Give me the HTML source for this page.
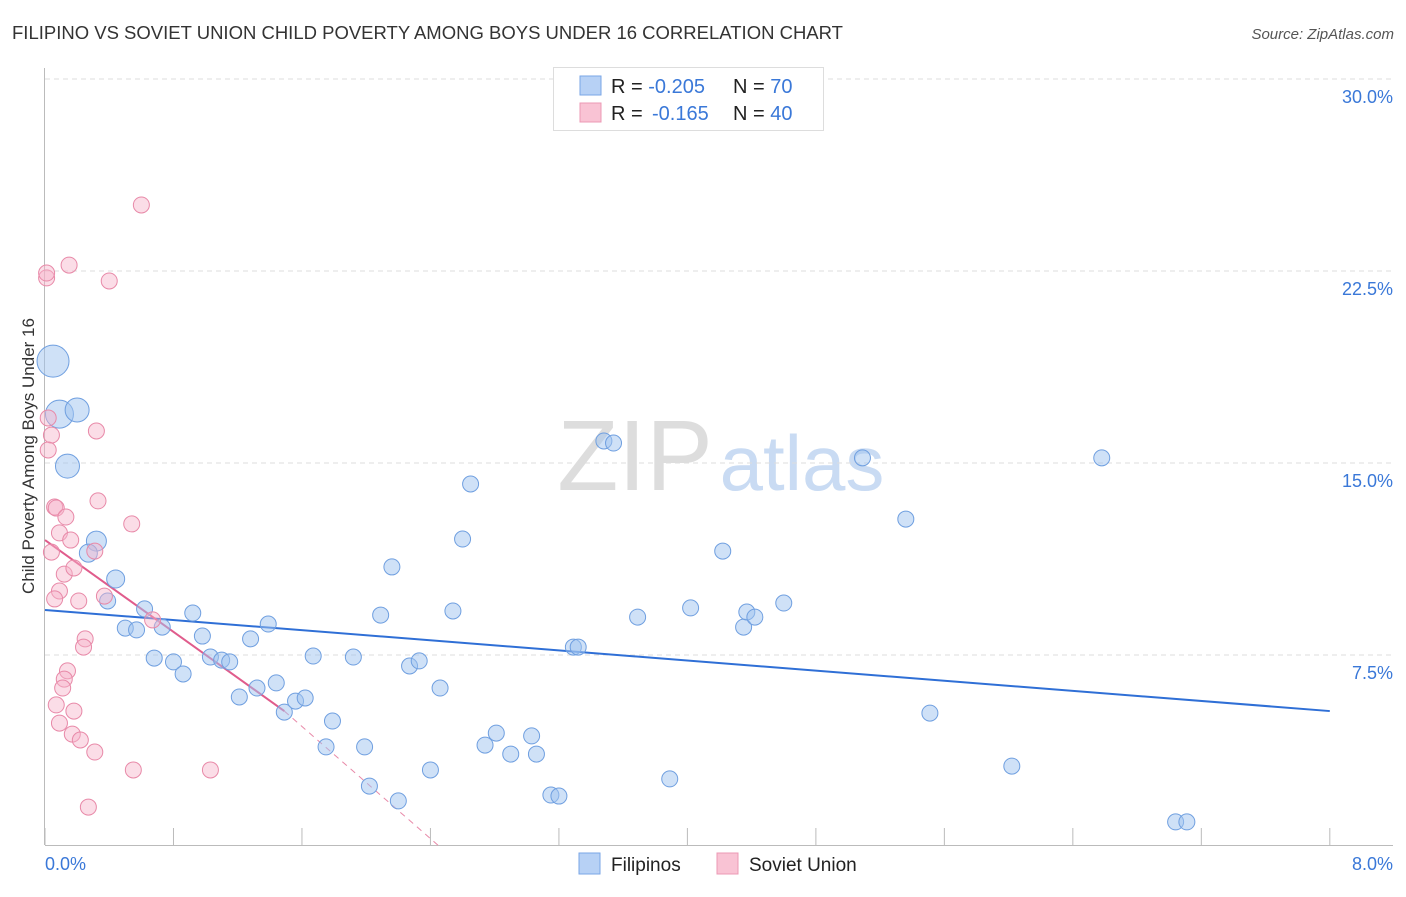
<!DOCTYPE html>
<html><head><meta charset="utf-8"><style>
body{margin:0;background:#fff;font-family:"Liberation Sans",sans-serif;}
svg text{font-family:"Liberation Sans",sans-serif;}
</style></head><body>
<svg id="chart" width="1406" height="892" xmlns="http://www.w3.org/2000/svg">
<text x="12" y="39" font-size="18.5" fill="#333">FILIPINO VS SOVIET UNION CHILD POVERTY AMONG BOYS UNDER 16 CORRELATION CHART</text>
<text x="1394" y="39" font-size="15" fill="#555" font-style="italic" text-anchor="end">Source: ZipAtlas.com</text>
<text x="34" y="456" font-size="17" fill="#333" text-anchor="middle" transform="rotate(-90 34 456)">Child Poverty Among Boys Under 16</text>
<g>
<text x="635" y="490" font-size="100" fill="#ddd" font-family="Liberation Serif" text-anchor="middle">ZIP</text>
<text x="802" y="490" font-size="78" fill="#c9dbf3" text-anchor="middle">atlas</text>
</g>
<g id="grid"></g><g id="axes"></g><g id="trends"></g><g id="pts"></g>
<g>
<rect x="553.5" y="67.5" width="270" height="63" fill="#fff" stroke="#ddd"/>
<rect x="580" y="76" width="21" height="19" fill="#b7d1f5" stroke="#7aa6e6"/>
<rect x="580" y="103" width="21" height="19" fill="#f9c3d4" stroke="#ec98b4"/>
<text x="611" y="93" font-size="20" fill="#222">R = <tspan fill="#3a78d8">-0.205</tspan><tspan x="733">N = </tspan><tspan fill="#3a78d8">70</tspan></text>
<text x="611" y="120" font-size="20" fill="#222">R = <tspan x="652" fill="#3a78d8">-0.165</tspan><tspan x="733">N = </tspan><tspan fill="#3a78d8">40</tspan></text>
</g>
<g>
<rect x="579" y="853" width="21" height="21" fill="#b7d1f5" stroke="#7aa6e6"/>
<text x="611" y="871" font-size="19" fill="#222">Filipinos</text>
<rect x="717" y="853" width="21" height="21" fill="#f9c3d4" stroke="#ec98b4"/>
<text x="749" y="871" font-size="19" fill="#222">Soviet Union</text>
</g>
</svg>
<script>
const blueX=[0.05,0.09,0.20,0.14,0.32,0.27,0.44,0.39,0.50,0.57,0.62,0.73,0.92,0.68,0.80,0.86,0.98,1.03,1.10,1.15,1.28,1.39,1.21,1.32,1.44,1.49,1.56,1.62,1.67,1.79,1.75,1.92,1.99,2.02,2.09,2.16,2.20,2.27,2.33,2.40,2.46,2.54,2.60,2.65,2.74,2.81,2.90,3.03,3.06,3.15,3.20,3.29,3.32,3.48,3.54,3.69,3.89,4.02,4.22,4.35,4.37,4.42,4.60,5.09,5.36,5.51,6.02,6.58,7.04,7.11];
const blueY=[18.98,16.91,17.07,14.88,11.95,11.48,10.47,9.61,8.55,8.48,9.30,8.59,9.14,7.38,7.23,6.76,8.24,7.42,7.30,7.23,8.13,8.71,5.86,6.21,6.41,5.27,5.70,5.82,7.46,4.92,3.91,7.42,3.91,2.38,9.06,10.94,1.80,7.07,7.27,3.01,6.21,9.22,12.03,14.18,3.98,4.45,3.63,4.34,3.63,2.03,1.99,7.81,7.81,15.86,15.78,8.98,2.66,9.34,11.56,8.59,9.18,8.98,9.53,15.20,12.81,5.23,3.16,15.20,0.98,0.98];
const blueR=[16,14,12,12,10,9,9];
const pinkX=[0.01,0.01,0.15,0.40,0.60,0.02,0.04,0.02,0.32,0.33,0.54,0.06,0.07,0.13,0.09,0.16,0.31,0.04,0.12,0.18,0.09,0.06,0.21,0.37,0.67,0.25,0.24,0.14,0.12,0.11,0.07,0.18,0.09,0.17,0.22,0.31,0.55,1.03,0.27];
const pinkY=[22.23,22.42,22.73,22.11,25.08,16.76,16.09,15.51,16.25,13.52,12.62,13.28,13.24,12.89,12.27,11.99,11.56,11.52,10.66,10.90,10.00,9.69,9.61,9.80,8.87,8.13,7.81,6.88,6.56,6.21,5.55,5.31,4.84,4.41,4.18,3.71,3.01,3.01,1.56];
const yTicks=[7.5,15,22.5,30];
const yTickLabels=["7.5%","15.0%","22.5%","30.0%"];
const blueTrend=[9.26,5.31];
const pinkTrend=[11.99,5.31];
const pinkSolidEnd=1.49;
const pinkDashEnd=2.46;
const NS="http://www.w3.org/2000/svg";
const X=v=>45+v*160.6, Y=v=>847-v*25.6;
function mk(t,a,p){const e=document.createElementNS(NS,t);for(const k in a)e.setAttribute(k,a[k]);document.getElementById(p).appendChild(e);return e;}
yTicks.forEach((t,i)=>{
 const l=mk('line',{x1:45,x2:1393,y1:Y(t),y2:Y(t),stroke:'#ddd','stroke-dasharray':'5,4'},'grid');
 
 
 const tx=mk('text',{x:1393,y:Y(t)+24,'font-size':18,fill:'#3a78d8','text-anchor':'end'},'grid');
 tx.textContent=yTickLabels[i];
 
 
});
const ax=mk('line',{x1:45,x2:1393,y1:845.5,y2:845.5,stroke:'#bbb'},'axes');


const ay=mk('line',{x1:44.5,x2:44.5,y1:68,y2:845,stroke:'#bbb'},'axes');


for(let i=0;i<=10;i++){const t=mk('line',{x1:X(i*0.8),x2:X(i*0.8),y1:828,y2:845,stroke:'#bbb'},'axes');
 
 }
const xl0=mk('text',{x:45,y:870,'font-size':18,fill:'#3a78d8'},'axes');xl0.textContent='0.0%';


const xl1=mk('text',{x:1393,y:870,'font-size':18,fill:'#3a78d8','text-anchor':'end'},'axes');xl1.textContent='8.0%';


blueX.forEach((x,i)=>{const c=mk('circle',{cx:X(x),cy:Y(blueY[i]),r:blueR[i]||8,fill:'rgba(160,195,240,0.5)',stroke:'#6f9fe0','stroke-width':1},'pts');
 
 });
pinkX.forEach((x,i)=>{const c=mk('circle',{cx:X(x),cy:Y(pinkY[i]),r:8,fill:'rgba(247,180,202,0.45)',stroke:'#e889a8','stroke-width':1},'pts');
 
 });
const bt=mk('line',{x1:X(0),y1:Y(blueTrend[0]),x2:X(8),y2:Y(blueTrend[1]),stroke:'#2f6fd6','stroke-width':2},'trends');


const pt=mk('line',{x1:X(0),y1:Y(pinkTrend[0]),x2:X(pinkSolidEnd),y2:Y(pinkTrend[1]),stroke:'#e05c8c','stroke-width':2},'trends');


const pd=mk('line',{x1:X(pinkSolidEnd),y1:Y(pinkTrend[1]),x2:X(pinkDashEnd),y2:Y(0),stroke:'#e889a8','stroke-width':1,'stroke-dasharray':'6,5'},'trends');


</script>
</body></html>
